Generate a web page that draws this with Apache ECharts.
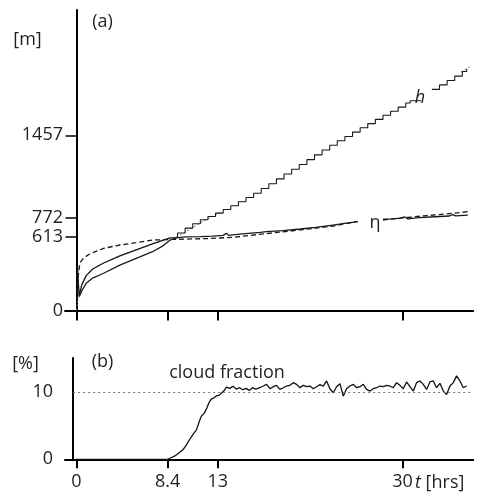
<!DOCTYPE html>
<html><head><meta charset="utf-8">
<script src="https://cdn.jsdelivr.net/npm/echarts@6/dist/echarts.min.js"></script>
<style>html,body{margin:0;padding:0;background:#fff}#c{width:482px;height:498px}</style>
</head><body><div id="c"></div>
<script>
// ---- tick values ----
const timeTicks = [0, 8.4, 13, 30];
const heightTicks = [0, 613, 772, 1457];
const cloudTicks = [0, 10];
const cloudRef = 10;

// ---- panel (a): h, early smooth part ----
const hEarlyT = [0.1, 0.25, 0.5, 0.9, 1.5, 2.5, 4, 5.5, 7, 8.6];
const hEarlyV = [365, 120, 215, 290, 345, 395, 455, 505, 555, 605];
// h, stepped part (gap where the label sits)
const hStepT = [8.6, 9.3, 10.0, 10.7, 11.4, 12.1, 12.8, 13.5, 14.2, 14.9, 15.6, 16.3, 17.0, 17.7, 18.4, 19.1, 19.8, 20.5, 21.2, 21.9, 22.6, 23.3, 24.0, 24.7, 25.4, 26.1, 26.8, 27.5, 28.2, 28.9, 29.6, 30.3, 30.7, 31.7, 32.7, 33.4, 34.1, 34.8, 35.5, 35.9];
const hStepV = [605, 645, 685, 722, 755, 782, 810, 840, 872, 905, 940, 975, 1015, 1055, 1095, 1135, 1175, 1215, 1255, 1295, 1335, 1375, 1412, 1448, 1484, 1520, 1555, 1590, 1625, 1658, 1692, 1726, 1745, null, 1840, 1877, 1914, 1950, 1988, 2010];
// eta (solid)
const etaT = [0.26, 0.5, 0.9, 1.5, 2.5, 4, 5.5, 7, 8.0, 8.6, 9.2, 10, 11.4, 12.5, 13.5, 13.8, 14.0, 15, 16.9, 17.5, 19, 20.6, 22, 23.6, 24.5, 25.9, 27, 28.2, 29, 29.8, 30.2, 30.5, 31.5, 33, 34.3, 34.6, 34.9, 36];
const etaV = [115, 165, 226, 270, 310, 378, 434, 489, 540, 585, 605, 612, 614, 618, 625, 642, 625, 635, 650, 656, 665, 678, 692, 711, 722, 739, null, 759, 763, 768, 778, 762, 772, 780, 786, 798, 787, 794];
// dashed model curve
const dashT = [0.05, 0.12, 0.32, 0.63, 1.2, 2.5, 4, 5.5, 7, 8.3, 10, 12, 14.4, 16, 17.5, 20.6, 23.6, 25.8, 27, 28.2, 30, 32, 34, 36];
const dashV = [70, 250, 395, 434, 470, 517, 545, 564, 586, 590, 594, 598, 609, 625, 640, 670, 703, 739, null, 753, 770, 788, 803, 822];
// dotted theory curve (visible where it leaves h)
const dotT = [0, 0.2, 0.5, 0.9, 1.5, 2.5, 4, 5.5, 7, 8.6, 9.3, 9.8, 10.7, 11.7, 12.7, 13.3, 20, 35.4, 36.2];
const dotV = [0, 150, 215, 290, 345, 395, 455, 505, 555, 598, 618, 642, 690, 745, 793, 820, null, 1985, 2030];

// ---- panel (b): cloud fraction [%] ----
const cfT = [0, 8.4, 8.6, 9.06, 9.4, 9.8, 10.1, 10.4, 10.7, 11.05, 11.3, 11.5, 11.75, 12.0, 12.2, 12.4, 12.65, 12.9, 13.15, 13.4, 13.6, 13.8, 14.1, 14.4, 14.7, 15.0, 15.3, 15.6, 15.9, 16.2, 16.5,
  16.88, 17.19, 17.49, 17.80, 18.11, 18.41, 18.72, 19.03, 19.33, 19.64, 19.95, 20.25, 20.56, 20.87, 21.17, 21.48, 21.79, 22.09, 22.40, 22.71, 23.01, 23.32, 23.63, 23.93, 24.24, 24.55, 24.85, 25.16, 25.47, 25.77, 26.08, 26.39, 26.69, 27.00, 27.31, 27.61, 27.92, 28.23, 28.53, 28.84, 29.15, 29.45, 29.76, 30.07, 30.37, 30.68, 30.99, 31.29, 31.60, 31.91, 32.21, 32.52, 32.83, 33.13, 33.44, 33.75, 34.05, 34.36, 34.67, 34.97, 35.28, 35.59, 35.89];
const cfV = [0, 0, 0.15, 0.5, 0.9, 1.4, 2.1, 2.9, 3.6, 4.4, 5.6, 6.4, 6.8, 7.6, 8.4, 8.9, 9.1, 9.4, 9.5, 9.9, 10.2, 10.7, 10.5, 10.8, 10.4, 10.6, 10.3, 10.5, 10.2, 10.6, 10.4,
  10.6, 10.85, 11.1, 10.45, 10.75, 10.95, 10.35, 10.6, 10.85, 10.95, 11.35, 11.1, 10.6, 10.95, 10.75, 10.85, 10.45, 10.75, 11.05, 10.85, 11.6, 10.45, 9.85, 10.75, 11.2, 9.35, 10.45, 10.85, 11.1, 10.6, 10.75, 11.1, 10.35, 10.1, 10.45, 10.6, 10.85, 10.75, 10.95, 10.85, 10.6, 11.35, 10.95, 10.45, 11.45, 10.75, 10.1, 11.35, 11.6, 11.1, 10.35, 11.45, 11.6, 10.6, 11.25, 10.1, 9.6, 10.85, 11.35, 12.35, 11.6, 10.6, 10.85];

const pairs = (T, V) => T.map((t, i) => [t, V[i] === null ? '-' : V[i]]);

const FONT = '"Open Sans", "Liberation Sans", sans-serif';
const INK = '#231f20';
const FS = 18;

const xAxisCommon = {
  type: 'value', min: -1.05, max: 36.5,
  axisLine: { onZero: false, lineStyle: { color: '#000', width: 2 } },
  splitLine: { show: false },
};

const option = {
  animation: false,
  backgroundColor: '#fff',
  grid: [
    { left: 65, right: 8.8, top: 10, bottom: 187.5 },
    { left: 65, right: 8.8, top: 358, bottom: 38.7 }
  ],
  xAxis: [
    Object.assign({}, xAxisCommon, {
      gridIndex: 0,
      axisTick: { show: true, customValues: timeTicks, length: 10, lineStyle: { color: '#000', width: 2 } },
      axisLabel: { show: false, customValues: timeTicks }
    }),
    Object.assign({}, xAxisCommon, {
      gridIndex: 1,
      axisTick: { show: true, customValues: timeTicks, length: 9, lineStyle: { color: '#000', width: 2 } },
      axisLabel: { customValues: timeTicks, margin: 14, color: INK, fontSize: FS, fontFamily: FONT, formatter: v => String(v) }
    })
  ],
  yAxis: [
    {
      type: 'value', gridIndex: 0, min: 0, max: 2500, position: 'left', offset: -11.5,
      axisLine: { show: true, onZero: false, lineStyle: { color: '#000', width: 2 } },
      axisTick: { show: true, customValues: heightTicks, length: 11, lineStyle: { color: '#000', width: 1.5 } },
      axisLabel: { customValues: heightTicks, margin: 13.5, color: INK, fontSize: FS, fontFamily: FONT, formatter: v => String(v) },
      splitLine: { show: false }
    },
    {
      type: 'value', gridIndex: 1, min: 0, max: 15, position: 'left', offset: -8,
      axisLine: { show: true, onZero: false, lineStyle: { color: '#000', width: 2 } },
      axisTick: { show: false },
      axisLabel: { customValues: cloudTicks, margin: 20, color: INK, fontSize: FS, fontFamily: FONT, formatter: v => String(v) },
      splitLine: { show: false }
    }
  ],
  series: [
    { type: 'line', name: 'theory', xAxisIndex: 0, yAxisIndex: 0, data: pairs(dotT, dotV), showSymbol: false, z: 1,
      lineStyle: { color: '#777', width: 1, type: [2, 2] } },
    { type: 'line', name: 'model', xAxisIndex: 0, yAxisIndex: 0, data: pairs(dashT, dashV), showSymbol: false, z: 2,
      lineStyle: { color: '#1a1a1a', width: 1.3, type: [5, 3] } },
    { type: 'line', name: 'eta', xAxisIndex: 0, yAxisIndex: 0, data: pairs(etaT, etaV), showSymbol: false, z: 3,
      lineStyle: { color: '#1a1a1a', width: 1.3 } },
    { type: 'line', name: 'h', xAxisIndex: 0, yAxisIndex: 0, data: pairs(hEarlyT, hEarlyV), showSymbol: false, z: 3,
      lineStyle: { color: '#1a1a1a', width: 1.3 } },
    { type: 'line', name: 'h-steps', xAxisIndex: 0, yAxisIndex: 0, data: pairs(hStepT, hStepV), showSymbol: false, step: 'end', z: 3,
      lineStyle: { color: '#1a1a1a', width: 1.1 } },
    { type: 'line', name: 'cloud', xAxisIndex: 1, yAxisIndex: 1, data: pairs(cfT, cfV), showSymbol: false, z: 3,
      lineStyle: { color: '#111', width: 1.3 },
      markLine: { silent: true, symbol: 'none', label: { show: false },
        lineStyle: { color: '#777', width: 1, type: [2, 3] },
        data: [[{ coord: [-0.3, cloudRef] }, { coord: [36.5, cloudRef] }]] } }
  ],
  graphic: [
    { type: 'text', x: 102.5, y: 22, style: { text: '(a)', font: FS + 'px ' + FONT, fill: INK, align: 'center', verticalAlign: 'middle' } },
    { type: 'text', x: 27.5, y: 40, style: { text: '[m]', font: FS + 'px ' + FONT, fill: INK, align: 'center', verticalAlign: 'middle' } },
    { type: 'text', x: 420, y: 98, style: { text: 'h', font: 'italic ' + FS + 'px ' + FONT, fill: INK, align: 'center', verticalAlign: 'middle' } },
    { type: 'text', x: 375, y: 223, style: { text: 'η', font: FS + 'px ' + FONT, fill: INK, align: 'center', verticalAlign: 'middle' } },
    { type: 'text', x: 102.5, y: 362, style: { text: '(b)', font: FS + 'px ' + FONT, fill: INK, align: 'center', verticalAlign: 'middle' } },
    { type: 'text', x: 25.5, y: 364, style: { text: '[%]', font: FS + 'px ' + FONT, fill: INK, align: 'center', verticalAlign: 'middle' } },
    { type: 'text', x: 227, y: 373, style: { text: 'cloud fraction', font: FS + 'px ' + FONT, fill: INK, align: 'center', verticalAlign: 'middle' } },
    { type: 'text', x: 415, y: 483, style: { text: '{i|t} [hrs]', font: FS + 'px ' + FONT, fill: INK, align: 'left', verticalAlign: 'middle',
      rich: { i: { fontStyle: 'italic', fontSize: FS, fontFamily: FONT, fill: INK } } } }
  ]
};

const chart = echarts.init(document.getElementById('c'), null, { renderer: 'canvas' });
chart.setOption(option);
</script>
</body></html>
